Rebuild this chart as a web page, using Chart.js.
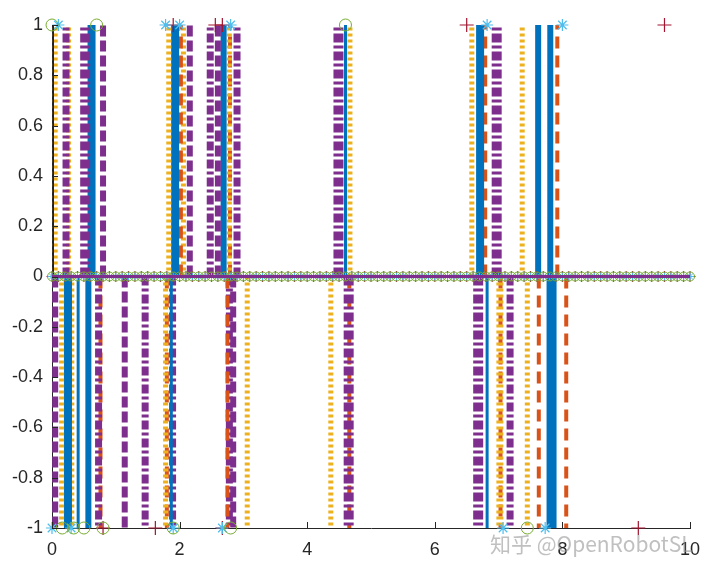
<!DOCTYPE html>
<html>
<head>
<meta charset="utf-8">
<script src="https://cdn.jsdelivr.net/npm/chart.js@4.4.0/dist/chart.umd.min.js"></script>
<style>
html,body{margin:0;padding:0;background:#fff;}
#wrap{position:relative;width:720px;height:568px;}
#mark{position:absolute;left:490px;top:528px;font:21px "Noto Sans CJK SC","Liberation Sans",sans-serif;color:rgba(150,150,150,0.6);white-space:nowrap;}
</style>
</head>
<body>
<div id="wrap"><canvas id="c" width="720" height="568"></canvas><div id="mark">知乎 @OpenRobotSL</div></div>
<script>
// ---- data ----
const xTicks = [0, 2, 4, 6, 8, 10];
const yTicks = [-1, -0.8, -0.6, -0.4, -0.2, 0, 0.2, 0.4, 0.6, 0.8, 1];

// vertical stems: x position, end value (+1 or -1), style name
const stemX = [
  0.02, 0.05, 0.22, 0.26, 0.52, 0.62, 0.63, 0.80,
  1.83, 1.93, 2.02, 2.06, 2.16, 2.48, 2.60, 2.69, 2.78, 2.79, 2.90,
  4.49, 4.60, 4.67, 6.58, 6.71, 6.79, 6.97, 7.37, 7.62, 7.81, 7.92,
  0.05, 0.15, 0.25, 0.28, 0.31, 0.41, 0.57, 0.73, 0.76, 1.14, 1.46,
  1.78, 1.80, 1.87, 1.89, 2.75, 2.78, 2.84, 3.06, 4.37, 4.65, 4.66,
  6.68, 6.82, 7.02, 7.03, 7.18, 7.45, 7.63, 7.83, 8.06
];
const stemEnd = [
  1, 1, 1, 1, 1, 1, 1, 1,
  1, 1, 1, 1, 1, 1, 1, 1, 1, 1, 1,
  1, 1, 1, 1, 1, 1, 1, 1, 1, 1, 1,
  -1, -1, -1, -1, -1, -1, -1, -1, -1, -1, -1,
  -1, -1, -1, -1, -1, -1, -1, -1, -1, -1, -1,
  -1, -1, -1, -1, -1, -1, -1, -1, -1
];
const stemKind = [
  'blackThin', 'yellowDot', 'purpleDashDot', 'yellowDot', 'purpleDashDotW', 'blueSolidW', 'orangeDash', 'purpleDash',
  'yellowDot', 'blueSolidW', 'orangeDash', 'yellowDot', 'purpleDash', 'purpleDashDot', 'purpleDash', 'blueSolid', 'yellowDot', 'orangeDash', 'purpleDashDot',
  'purpleDashDotW', 'blueThin', 'yellowDot', 'yellowDot', 'blueSolidW', 'orangeDash', 'purpleDashDotW', 'yellowDot', 'blueSolid', 'blueSolid', 'orangeDash',
  'purpleDash', 'yellowDot', 'blueSolidW', 'orangeDash', 'yellowDot', 'blueThin', 'blueSolid', 'purpleDashDot', 'orangeDash', 'purpleDash', 'purpleDashDot',
  'yellowDot', 'orangeDash', 'blueThin', 'purpleDashDot', 'orangeDash', 'purpleDashDot', 'purpleDash', 'yellowDot', 'yellowDot', 'purpleDashDotW', 'orangeDash',
  'purpleDashDotW', 'blueThin', 'yellowDotW', 'orangeDash', 'purpleDashDot', 'yellowDot', 'orangeDash', 'blueSolidXW', 'orangeDash'
];

// markers at the stem tips
const tipCircleX = [0.0, 0.7, 4.6, 0.16, 0.34, 0.5, 0.8, 1.9, 2.8, 7.45];
const tipCircleY = [1, 1, 1, -1, -1, -1, -1, -1, -1, -1];
const tipStarX = [0.1, 1.78, 2.0, 2.8, 6.82, 8.0, 0.0, 0.3, 1.9, 2.67, 7.07, 7.73];
const tipStarY = [1, 1, 1, 1, 1, 1, -1, -1, -1, -1, -1, -1];
const tipPlusX = [1.9, 2.56, 2.67, 6.5, 9.6, 0.8, 1.62, 2.67, 9.19];
const tipPlusY = [1, 1, 1, 1, 1, -1, -1, -1, -1];

// baseline samples (y = 0)
const baseX = [0,0.1,0.2,0.3,0.4,0.5,0.6,0.7,0.8,0.9,1,1.1,1.2,1.3,1.4,1.5,1.6,1.7,1.8,1.9,
  2,2.1,2.2,2.3,2.4,2.5,2.6,2.7,2.8,2.9,3,3.1,3.2,3.3,3.4,3.5,3.6,3.7,3.8,3.9,
  4,4.1,4.2,4.3,4.4,4.5,4.6,4.7,4.8,4.9,5,5.1,5.2,5.3,5.4,5.5,5.6,5.7,5.8,5.9,
  6,6.1,6.2,6.3,6.4,6.5,6.6,6.7,6.8,6.9,7,7.1,7.2,7.3,7.4,7.5,7.6,7.7,7.8,7.9,
  8,8.1,8.2,8.3,8.4,8.5,8.6,8.7,8.8,8.9,9,9.1,9.2,9.3,9.4,9.5,9.6,9.7,9.8,9.9,10];

// ---- styles ----
const C = {blue:'#0072BD', orange:'#D95319', yellow:'#EDB120', purple:'#7E2F8E', green:'#77AC30', lblue:'#4DBEEE', dred:'#A2142F'};
const kinds = {
  blackThin:      {color:'#222222', width:1.5, dash:[]},
  blueThin:       {color:C.blue, width:3, dash:[]},
  blueSolid:      {color:C.blue, width:6, dash:[]},
  blueSolidW:     {color:C.blue, width:8, dash:[]},
  blueSolidXW:    {color:C.blue, width:10, dash:[]},
  orangeDash:     {color:C.orange, width:4, dash:[12,7]},
  yellowDot:      {color:C.yellow, width:5, dash:[3,3]},
  yellowDotW:     {color:C.yellow, width:7, dash:[3,3]},
  purpleDash:     {color:C.purple, width:6, dash:[11,4]},
  purpleDashDot:  {color:C.purple, width:7, dash:[9,3,3,3]},
  purpleDashDotW: {color:C.purple, width:10, dash:[9,3,3,3]}
};

const datasets = [];
const zip = (xs, ys) => xs.map((x, i) => ({x: x, y: ys[i]}));
const base = () => baseX.map(x => ({x: x, y: 0}));

// baseline series
datasets.push({data: base(), showLine: true, borderColor: C.purple, borderWidth: 3, pointRadius: 0, order: 0, clip: false});
datasets.push({data: base(), showLine: true, borderColor: C.blue, borderWidth: 1, pointStyle: 'circle', pointRadius: 4.5, pointBorderColor: C.green, pointBackgroundColor: 'rgba(0,0,0,0)', pointBorderWidth: 1, order: 0, clip: false});
datasets.push({data: base(), showLine: false, pointStyle: 'star', pointRadius: 4, pointBorderColor: C.lblue, pointBorderWidth: 1, order: 0, clip: false});
datasets.push({data: base(), showLine: false, pointStyle: 'cross', pointRadius: 5.5, pointBorderColor: C.dred, pointBorderWidth: 1, order: 0, clip: false});

// tip markers
datasets.push({data: zip(tipCircleX, tipCircleY), showLine: false, pointStyle: 'circle', pointRadius: 6, pointBorderColor: C.green, pointBackgroundColor: 'rgba(0,0,0,0)', pointBorderWidth: 1, order: 0, clip: false});
datasets.push({data: zip(tipStarX, tipStarY), showLine: false, pointStyle: 'star', pointRadius: 6, pointBorderColor: C.lblue, pointBorderWidth: 1.2, order: 0, clip: false});
datasets.push({data: zip(tipPlusX, tipPlusY), showLine: false, pointStyle: 'cross', pointRadius: 7, pointBorderColor: C.dred, pointBorderWidth: 1.2, order: 0, clip: false});

// stems
stemX.forEach((x, i) => {
  const k = kinds[stemKind[i]];
  datasets.push({
    data: [{x: x, y: 0}, {x: x, y: stemEnd[i]}],
    showLine: true, borderColor: k.color, borderWidth: k.width, borderDash: k.dash,
    borderCapStyle: 'butt', pointRadius: 0, order: 1 + i, clip: false
  });
});

// inward tick marks (MATLAB style)
const inwardTicks = {
  id: 'inwardTicks',
  afterDraw(chart) {
    const ctx = chart.ctx, xs = chart.scales.x, ys = chart.scales.y, a = chart.chartArea;
    ctx.save();
    ctx.strokeStyle = '#262626'; ctx.lineWidth = 1;
    ctx.beginPath();
    xTicks.forEach(v => { const p = Math.round(xs.getPixelForValue(v)) + 0.5; ctx.moveTo(p, a.bottom); ctx.lineTo(p, a.bottom - 6); });
    yTicks.forEach(v => { const p = Math.round(ys.getPixelForValue(v)) + 0.5; ctx.moveTo(a.left, p); ctx.lineTo(a.left + 6, p); });
    ctx.stroke();
    ctx.restore();
  }
};

new Chart(document.getElementById('c'), {
  type: 'scatter',
  data: {datasets: datasets},
  plugins: [inwardTicks],
  options: {
    responsive: false, animation: false, events: [],
    layout: {padding: {top: 25, right: 30, left: 0, bottom: 0}},
    plugins: {legend: {display: false}, tooltip: {enabled: false}},
    scales: {
      x: {
        type: 'linear', min: 0, max: 10,
        afterFit(s) { s.height = 40; },
        afterBuildTicks(s) { s.ticks = xTicks.map(v => ({value: v})); },
        grid: {display: false, drawTicks: false},
        border: {display: true, color: '#262626', width: 1},
        ticks: {padding: 11, color: '#262626', font: {family: 'Liberation Sans, Arial, sans-serif', size: 18}, maxRotation: 0}
      },
      y: {
        type: 'linear', min: -1, max: 1,
        afterFit(s) { s.width = 52; },
        afterBuildTicks(s) { s.ticks = yTicks.map(v => ({value: v})); },
        grid: {display: false, drawTicks: false},
        border: {display: true, color: '#262626', width: 1},
        ticks: {padding: 9, color: '#262626', font: {family: 'Liberation Sans, Arial, sans-serif', size: 18},
          callback: v => String(Math.round(v * 10) / 10)}
      }
    }
  }
});
</script>
</body>
</html>
